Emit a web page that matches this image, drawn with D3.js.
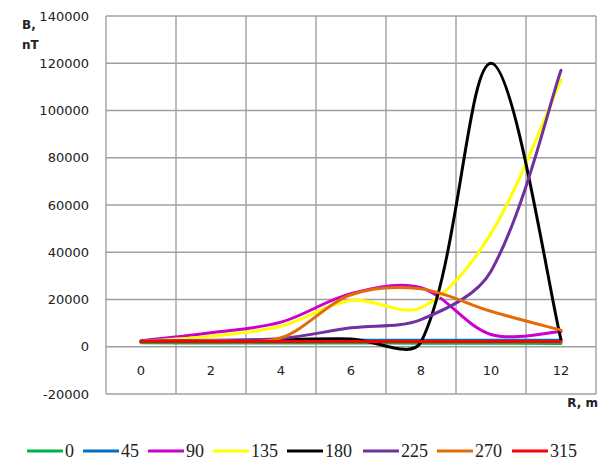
<!DOCTYPE html>
<html>
<head>
<meta charset="utf-8">
<script src="https://cdn.jsdelivr.net/npm/d3@7"></script>
<style>
  html, body { margin: 0; padding: 0; background: #fff; }
</style>
</head>
<body>
<div id="chart"></div>
<script>
// R, m categories and B (nT) per direction angle
const categories = ["0", "2", "4", "6", "8", "10", "12"];
const yTicks = [-20000, 0, 20000, 40000, 60000, 80000, 100000, 120000, 140000];

const s0 = [1700, 1600, 1600, 1600, 1500, 1500, 1400];
const s45 = [2300, 2400, 2500, 2700, 2700, 2700, 2700];
const s90 = [2500, 5900, 10400, 22500, 25000, 5200, 6500];
const s135 = [2300, 4500, 8700, 19600, 16500, 48000, 113000];
const s180 = [2300, 2500, 3000, 3300, 2000, 120000, 3000];
const s225 = [2300, 2800, 3500, 8000, 11500, 32000, 117000];
const s270 = [2300, 2500, 3800, 22000, 24500, 15000, 7000];
const s315 = [2200, 2200, 2200, 2200, 2200, 2200, 2200];

const seriesNames = ["0", "45", "90", "135", "180", "225", "270", "315"];
const seriesValues = [s0, s45, s90, s135, s180, s225, s270, s315];
const seriesColors = ["#00b050", "#0070c0", "#cc00cc", "#ffff00", "#000000", "#7030a0", "#e36c09", "#ff0000"];

const width = 600, height = 460;
const plotLeft = 106, plotRight = 596, plotTop = 16, plotBottom = 394;
const gridColor = "#a0a0a0";

// spreadsheet-style smoothing: bezier whose handles are scaled by the
// neighbouring segment lengths (keeps short segments from overshooting)
function SmoothCurve(context) { this._context = context; }
SmoothCurve.prototype = {
    areaStart() { this._line = 0; },
    areaEnd() { this._line = NaN; },
    lineStart() { this._pts = []; },
    point(px, py) { this._pts.push([+px, +py]); },
    lineEnd() {
        const p = this._pts, ctx = this._context, n = p.length;
        if (!n) return;
        ctx.moveTo(p[0][0], p[0][1]);
        const dist = (a, b) => Math.hypot(b[0] - a[0], b[1] - a[1]);
        for (let i = 0; i < n - 1; i++) {
            const p1 = p[i], p2 = p[i + 1];
            const d12 = dist(p1, p2);
            let c1, c2;
            if (i === 0) {
                c1 = [p1[0] + (p2[0] - p1[0]) / 6, p1[1] + (p2[1] - p1[1]) / 6];
            } else {
                const p0 = p[i - 1], d01 = dist(p0, p1);
                const f = d12 / (d01 + d12) / 3;
                c1 = [p1[0] + (p2[0] - p0[0]) * f, p1[1] + (p2[1] - p0[1]) * f];
            }
            if (i === n - 2) {
                c2 = [p2[0] - (p2[0] - p1[0]) / 6, p2[1] - (p2[1] - p1[1]) / 6];
            } else {
                const p3 = p[i + 2], d23 = dist(p2, p3);
                const f = d12 / (d12 + d23) / 3;
                c2 = [p2[0] - (p3[0] - p1[0]) * f, p2[1] - (p3[1] - p1[1]) * f];
            }
            ctx.bezierCurveTo(c1[0], c1[1], c2[0], c2[1], p2[0], p2[1]);
        }
    }
};
const curveSmooth = (context) => new SmoothCurve(context);

const svg = d3.select("#chart").append("svg")
    .attr("width", width)
    .attr("height", height);

const x = d3.scaleBand().domain(categories).range([plotLeft, plotRight]);
const y = d3.scaleLinear().domain([-20000, 140000]).range([plotBottom, plotTop]);
const cx = (c) => x(c) + x.bandwidth() / 2;

// horizontal grid
svg.append("g").selectAll("line")
    .data(yTicks)
    .join("line")
    .attr("x1", plotLeft).attr("x2", plotRight)
    .attr("y1", (d) => y(d)).attr("y2", (d) => y(d))
    .attr("stroke", gridColor).attr("stroke-width", 1.4);

// vertical grid (cell edges)
const edges = categories.map((c) => x(c)).concat([plotRight]);
svg.append("g").selectAll("line")
    .data(edges)
    .join("line")
    .attr("x1", (d) => d).attr("x2", (d) => d)
    .attr("y1", plotTop).attr("y2", plotBottom)
    .attr("stroke", gridColor).attr("stroke-width", 1.4);

// y tick labels
svg.append("g").selectAll("text")
    .data(yTicks)
    .join("text")
    .attr("x", 89)
    .attr("y", (d) => y(d))
    .attr("dy", "0.36em")
    .attr("text-anchor", "end")
    .attr("font-family", "DejaVu Sans, Verdana, sans-serif")
    .attr("font-size", 13)
    .attr("fill", "#222")
    .text((d) => d);

// x tick labels, centred in the cells below zero
svg.append("g").selectAll("text")
    .data(categories)
    .join("text")
    .attr("x", (d) => cx(d))
    .attr("y", (y(0) + y(-20000)) / 2)
    .attr("dy", "0.36em")
    .attr("text-anchor", "middle")
    .attr("font-family", "DejaVu Sans, Verdana, sans-serif")
    .attr("font-size", 13)
    .attr("fill", "#222")
    .text((d) => d);

// axis titles
const titleFont = "DejaVu Sans, Verdana, sans-serif";
svg.append("text").attr("x", 22).attr("y", 29)
    .attr("font-family", titleFont).attr("font-size", 12).attr("font-weight", "bold")
    .attr("fill", "#222").text("B,");
svg.append("text").attr("x", 22).attr("y", 49)
    .attr("font-family", titleFont).attr("font-size", 12).attr("font-weight", "bold")
    .attr("fill", "#222").text("nT");
svg.append("text").attr("x", 598).attr("y", 407).attr("text-anchor", "end")
    .attr("font-family", titleFont).attr("font-size", 12).attr("font-weight", "bold")
    .attr("fill", "#222").text("R, m");

// series lines
const line = d3.line()
    .x((d, i) => cx(categories[i]))
    .y((d) => y(d))
    .curve(curveSmooth);

svg.append("g").selectAll("path")
    .data(seriesValues)
    .join("path")
    .attr("d", line)
    .attr("fill", "none")
    .attr("stroke", (d, i) => seriesColors[i])
    .attr("stroke-width", 3)
    .attr("stroke-linejoin", "round")
    .attr("stroke-linecap", "round");

// legend
const legendStarts = [27, 83, 148, 213, 287, 363, 437, 512];
const legend = svg.append("g").selectAll("g")
    .data(seriesNames)
    .join("g")
    .attr("transform", (d, i) => `translate(${legendStarts[i]},451)`);
legend.append("line")
    .attr("x1", 0).attr("x2", 36)
    .attr("stroke", (d, i) => seriesColors[i])
    .attr("stroke-width", 3);
legend.append("text")
    .attr("x", 38)
    .attr("dy", "0.33em")
    .attr("font-family", "Liberation Serif, Times New Roman, serif")
    .attr("font-size", 18)
    .attr("fill", "#222")
    .text((d) => d);
</script>
</body>
</html>
